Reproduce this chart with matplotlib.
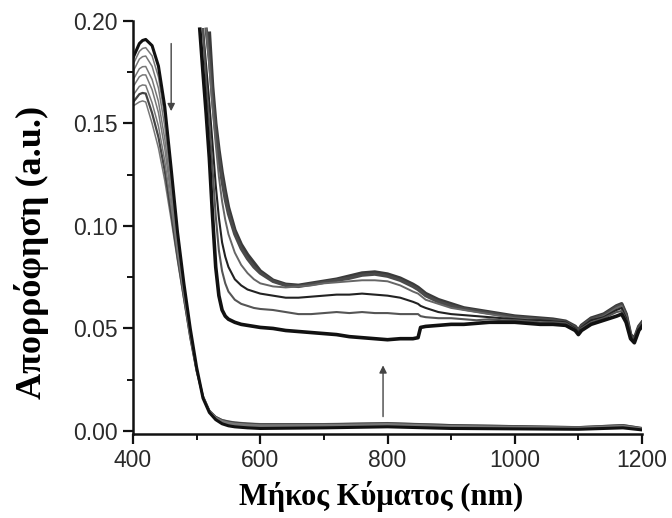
import numpy as np
import matplotlib
matplotlib.use("Agg")
import matplotlib.pyplot as plt
from matplotlib.ticker import MultipleLocator, FormatStrFormatter

# ---------------- data ----------------
# visible-region spectra (full scale)
wl_vis = [400, 410, 415, 420, 430, 440, 450, 460, 470, 480, 490, 500, 510, 520,
          530, 540, 550, 560, 580, 600, 700, 800, 900, 1000, 1100, 1170, 1200]

vis_1 = [0.182, 0.189, 0.1905, 0.191, 0.188, 0.178, 0.158, 0.128, 0.097, 0.072, 0.050, 0.031, 0.016, 0.009,
         0.0055, 0.0035, 0.0025, 0.0020, 0.0015, 0.0012, 0.0015, 0.0020, 0.0012, 0.0010, 0.0008, 0.0015, 0.0005]
vis_2 = [0.1787, 0.1852, 0.1866, 0.1870, 0.1830, 0.1727, 0.1532, 0.1247, 0.0951, 0.0709, 0.0493, 0.0307, 0.0161, 0.0091,
         0.0057, 0.0038, 0.0028, 0.0023, 0.0018, 0.0015, 0.0018, 0.0023, 0.0014, 0.0012, 0.0010, 0.0017, 0.0006]
vis_3 = [0.1753, 0.1814, 0.1826, 0.1829, 0.1779, 0.1673, 0.1484, 0.1213, 0.0933, 0.0699, 0.0487, 0.0305, 0.0163, 0.0093,
         0.0059, 0.0040, 0.0031, 0.0026, 0.0021, 0.0018, 0.0020, 0.0025, 0.0017, 0.0014, 0.0011, 0.0019, 0.0008]
vis_4 = [0.1712, 0.1767, 0.1777, 0.1778, 0.1715, 0.1607, 0.1424, 0.1172, 0.0909, 0.0685, 0.0478, 0.0301, 0.0164, 0.0094,
         0.0062, 0.0044, 0.0035, 0.0030, 0.0025, 0.0022, 0.0024, 0.0029, 0.0020, 0.0016, 0.0013, 0.0021, 0.0009]
vis_5 = [0.1678, 0.1728, 0.1737, 0.1737, 0.1665, 0.1553, 0.1376, 0.1138, 0.0891, 0.0675, 0.0472, 0.0299, 0.0166, 0.0096,
         0.0064, 0.0046, 0.0038, 0.0033, 0.0028, 0.0025, 0.0026, 0.0031, 0.0022, 0.0019, 0.0015, 0.0023, 0.0011]
vis_6 = [0.1637, 0.1681, 0.1688, 0.1686, 0.1601, 0.1487, 0.1316, 0.1097, 0.0867, 0.0661, 0.0463, 0.0295, 0.0167, 0.0097,
         0.0066, 0.0050, 0.0042, 0.0037, 0.0032, 0.0029, 0.0030, 0.0035, 0.0025, 0.0021, 0.0017, 0.0026, 0.0012]
vis_7 = [0.1603, 0.1643, 0.1649, 0.1646, 0.1551, 0.1433, 0.1268, 0.1063, 0.0849, 0.0651, 0.0457, 0.0293, 0.0169, 0.0099,
         0.0068, 0.0052, 0.0045, 0.0040, 0.0035, 0.0032, 0.0032, 0.0037, 0.0028, 0.0023, 0.0018, 0.0028, 0.0014]
vis_8 = [0.1585, 0.1605, 0.1610, 0.1605, 0.1500, 0.1380, 0.1220, 0.1030, 0.0830, 0.0640, 0.0450, 0.0290, 0.0170, 0.0100,
         0.0070, 0.0055, 0.0048, 0.0043, 0.0038, 0.0035, 0.0035, 0.0040, 0.0030, 0.0025, 0.0020, 0.0030, 0.0015]

# magnified NIR-region spectra
wl_nir = [505, 510, 515, 520, 525, 530, 535, 540, 545, 550, 560, 570, 580, 590, 600, 620, 640, 660, 680, 700,
          720, 740, 760, 780, 800, 820, 840, 848, 852, 860, 880, 900, 920, 940, 960, 980, 1000, 1020, 1040,
          1060, 1080, 1095, 1100, 1105, 1120, 1140, 1160, 1168, 1175, 1182, 1188, 1195, 1200]
nan = float("nan")
nir_a = [0.196, 0.175, 0.155, 0.133, 0.105, 0.080, 0.066, 0.059, 0.056, 0.0545, 0.053, 0.052, 0.0515, 0.051, 0.0505,
         0.050, 0.049, 0.0485, 0.048, 0.0475, 0.047, 0.046, 0.0455, 0.045, 0.0445, 0.045, 0.045, 0.0455, 0.0505,
         0.051, 0.0515, 0.052, 0.052, 0.0525, 0.053, 0.053, 0.053, 0.0525, 0.052, 0.052, 0.0515, 0.049, 0.047,
         0.049, 0.052, 0.054, 0.056, 0.057, 0.053, 0.045, 0.043, 0.049, 0.051]
nir_b = [nan, 0.196, 0.170, 0.150, 0.128, 0.105, 0.088, 0.078, 0.072, 0.068, 0.064, 0.062, 0.061, 0.060, 0.0595,
         0.059, 0.058, 0.057, 0.057, 0.0575, 0.058, 0.0575, 0.058, 0.0575, 0.0575, 0.057, 0.057, 0.057, 0.056,
         0.0555, 0.055, 0.055, 0.0545, 0.054, 0.0545, 0.054, 0.054, 0.0535, 0.053, 0.053, 0.0525, 0.0495, 0.0475,
         0.050, 0.053, 0.055, 0.058, 0.0585, 0.054, 0.046, 0.0435, 0.050, 0.052]
nir_c = [nan, 0.196, 0.178, 0.160, 0.140, 0.120, 0.104, 0.092, 0.085, 0.080, 0.074, 0.071, 0.069, 0.068, 0.067,
         0.066, 0.065, 0.065, 0.0655, 0.066, 0.0665, 0.0665, 0.067, 0.0665, 0.066, 0.065, 0.063, 0.062, 0.061,
         0.060, 0.058, 0.057, 0.0565, 0.056, 0.0555, 0.055, 0.0545, 0.054, 0.054, 0.0535, 0.053, 0.050, 0.048,
         0.0505, 0.054, 0.0555, 0.059, 0.060, 0.055, 0.046, 0.044, 0.050, 0.052]
nir_d = [nan, nan, 0.196, 0.178, 0.158, 0.140, 0.124, 0.112, 0.103, 0.096, 0.087, 0.081, 0.077, 0.074, 0.072,
         0.0705, 0.070, 0.0705, 0.071, 0.072, 0.0725, 0.073, 0.0735, 0.0735, 0.073, 0.071, 0.068, 0.067, 0.066,
         0.064, 0.062, 0.060, 0.059, 0.058, 0.057, 0.056, 0.055, 0.0545, 0.054, 0.0535, 0.053, 0.050, 0.048,
         0.0505, 0.054, 0.056, 0.060, 0.061, 0.056, 0.046, 0.044, 0.050, 0.052]
nir_e = [nan, nan, 0.196, 0.182, 0.162, 0.146, 0.133, 0.122, 0.113, 0.106, 0.096, 0.089, 0.084, 0.080, 0.077,
         0.073, 0.071, 0.0705, 0.0715, 0.0725, 0.0735, 0.0745, 0.076, 0.0765, 0.0755, 0.0735, 0.0705, 0.069, 0.068,
         0.066, 0.063, 0.061, 0.0595, 0.0585, 0.0575, 0.0565, 0.0555, 0.055, 0.0545, 0.054, 0.053, 0.0505, 0.0485,
         0.051, 0.0545, 0.0565, 0.0605, 0.0615, 0.0565, 0.0465, 0.0445, 0.0505, 0.0525]
nir_f = [nan, nan, nan, 0.194, 0.168, 0.150, 0.137, 0.126, 0.117, 0.109, 0.098, 0.091, 0.086, 0.082, 0.078,
         0.0735, 0.0715, 0.071, 0.072, 0.073, 0.074, 0.0755, 0.077, 0.0775, 0.0765, 0.0745, 0.0715, 0.070, 0.069,
         0.067, 0.064, 0.062, 0.060, 0.059, 0.058, 0.057, 0.056, 0.0555, 0.055, 0.0545, 0.0535, 0.051, 0.049,
         0.0515, 0.055, 0.057, 0.061, 0.062, 0.057, 0.047, 0.045, 0.051, 0.053]

# arrows (wavelength, start value, end value)
arrow_down = [460, 0.189, 0.156]
arrow_up = [793, 0.007, 0.032]

x_ticks = [400, 600, 800, 1000, 1200]
y_ticks = [0.00, 0.05, 0.10, 0.15, 0.20]
x_label = "Μήκος Κύματος (nm)"
y_label = "Απορρόφηση (a.u.)"

# ---------------- plot ----------------
fig = plt.figure(figsize=(6.72, 5.18), dpi=100)
ax = fig.add_axes([133 / 672, 1 - 434 / 518, (642 - 133) / 672, (434 - 21) / 518])

vis_series = [vis_8, vis_7, vis_6, vis_5, vis_4, vis_3, vis_2, vis_1]
vis_styles = [("#777777", 1.1), ("#444444", 1.6), ("#777777", 1.1), ("#777777", 1.1),
              ("#777777", 1.1), ("#777777", 1.1), ("#777777", 1.1), ("#111111", 2.2)]
for ys, (c, lw) in zip(vis_series, vis_styles):
    ax.plot(wl_vis, ys, color=c, lw=lw, solid_joinstyle="round")

nir_series = [nir_f, nir_e, nir_d, nir_c, nir_b, nir_a]
nir_styles = [("#3a3a3a", 2.6), ("#4a4a4a", 2.4), ("#666666", 1.4), ("#222222", 1.5),
              ("#555555", 1.5), ("#111111", 2.6)]
for ys, (c, lw) in zip(nir_series, nir_styles):
    ax.plot(wl_nir, ys, color=c, lw=lw, solid_joinstyle="round")

ax.annotate("", xy=(arrow_down[0], arrow_down[2]), xytext=(arrow_down[0], arrow_down[1]),
            arrowprops=dict(arrowstyle="-|>", color="#444444", lw=1.0, mutation_scale=11,
                            shrinkA=0, shrinkB=0))
ax.annotate("", xy=(arrow_up[0], arrow_up[2]), xytext=(arrow_up[0], arrow_up[1]),
            arrowprops=dict(arrowstyle="-|>", color="#444444", lw=1.0, mutation_scale=11,
                            shrinkA=0, shrinkB=0))

ax.set_xlim(400, 1200)
ax.set_ylim(-0.0015, 0.20)
ax.set_xticks(x_ticks)
ax.set_yticks(y_ticks)
ax.xaxis.set_minor_locator(MultipleLocator(100))
ax.yaxis.set_minor_locator(MultipleLocator(0.025))
ax.yaxis.set_major_formatter(FormatStrFormatter("%.2f"))

for s in ["top", "right"]:
    ax.spines[s].set_visible(False)
for s in ["left", "bottom"]:
    ax.spines[s].set_linewidth(1.8)
    ax.spines[s].set_color("#111111")

ax.tick_params(which="major", length=7, width=1.6, direction="out", pad=4,
               labelsize=16.5, labelcolor="#2a2a2a", color="#111111")
ax.tick_params(which="minor", length=4, width=1.4, direction="out", color="#111111")
for lab in ax.get_xticklabels() + ax.get_yticklabels():
    lab.set_fontfamily("Liberation Sans")

ax.set_xlabel(x_label, fontsize=22, fontweight="bold", family="Liberation Serif")
ax.set_ylabel(y_label, fontsize=26, fontweight="bold", family="Liberation Serif")
ax.xaxis.set_label_coords((381 - 133) / 509, -(512 - 434) / 413)
ax.yaxis.set_label_coords(-(133 - 14) / 509, (434 - 252) / 413)
ax.xaxis.label.set_va("bottom")
ax.yaxis.label.set_va("top")

fig.savefig("out.png", dpi=100)
